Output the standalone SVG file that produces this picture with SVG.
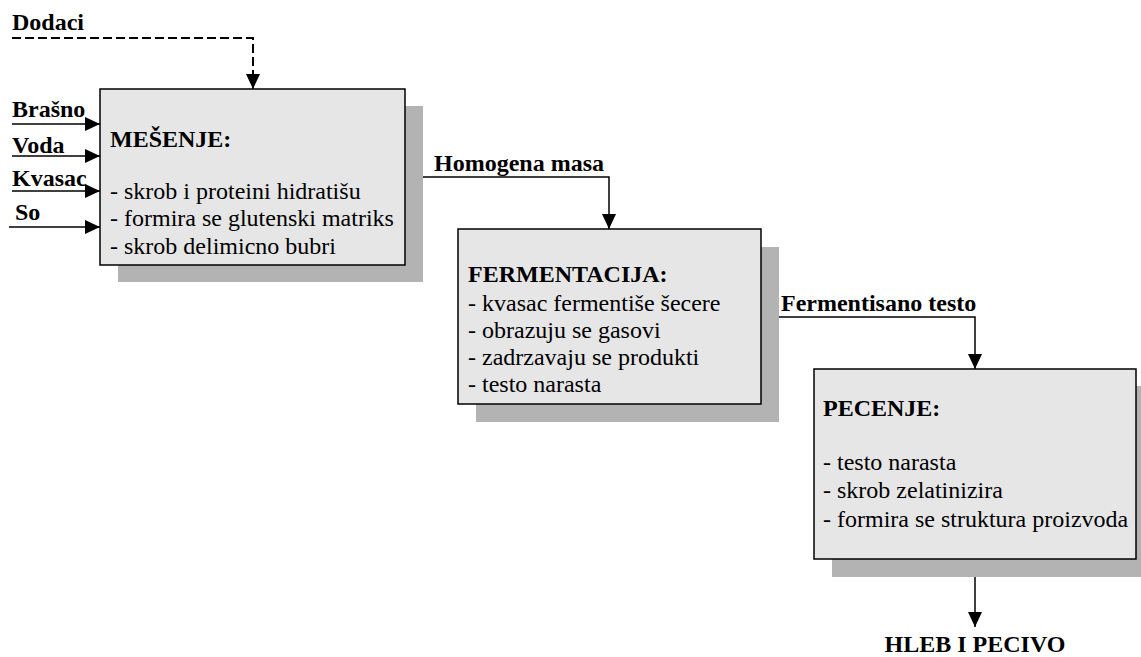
<svg xmlns="http://www.w3.org/2000/svg" width="1141" height="657" viewBox="0 0 1141 657">
<defs>
<style>
.t{font-family:"Liberation Serif","Times New Roman",serif;font-size:24px;fill:#000}
.b{font-weight:bold}
.box{fill:#e6e6e6;stroke:#000;stroke-width:1.5}
.sh{fill:#b3b3b3}
.ln{fill:none;stroke:#000;stroke-width:1.5}
.dash{fill:none;stroke:#000;stroke-width:2;stroke-dasharray:9 4}
</style>
<marker id="ah" viewBox="0 0 15 14" refX="15" refY="7" markerWidth="15" markerHeight="14" orient="auto" markerUnits="userSpaceOnUse">
<path d="M0,0 L15,7 L0,14 z" fill="#000"/>
</marker>
</defs>
<rect width="1141" height="657" fill="#fff"/>
<g id="labels">
<text class="t b" x="12" y="30">Dodaci</text>
<text class="t b" x="12" y="117">Brašno</text>
<text class="t b" x="12" y="153">Voda</text>
<text class="t b" x="12" y="186">Kvasac</text>
<text class="t b" x="15" y="220">So</text>
<text class="t b" x="434" y="171">Homogena masa</text>
<text class="t b" x="781" y="311">Fermentisano testo</text>
<text class="t b" x="975" y="652" text-anchor="middle">HLEB I PECIVO</text>
</g>
<g id="mesenje">
<rect class="sh" x="118" y="106" width="305" height="176"/>
<rect class="box" x="100" y="89" width="305" height="176"/>
<text class="t b" x="110" y="147">MEŠENJE:</text>
<text class="t" x="110" y="199">- skrob i proteini hidratišu</text>
<text class="t" x="110" y="226">- formira se glutenski matriks</text>
<text class="t" x="110" y="254">- skrob delimicno bubri</text>
</g>
<g id="fermentacija">
<rect class="sh" x="476" y="247" width="303" height="175"/>
<rect class="box" x="458" y="229" width="303" height="175"/>
<text class="t b" x="468" y="282">FERMENTACIJA:</text>
<text class="t" x="468" y="311">- kvasac fermentiše šecere</text>
<text class="t" x="468" y="338">- obrazuju se gasovi</text>
<text class="t" x="468" y="365">- zadrzavaju se produkti</text>
<text class="t" x="468" y="392">- testo narasta</text>
</g>
<g id="pecenje">
<rect class="sh" x="832" y="386" width="322" height="191"/>
<rect class="box" x="814" y="369" width="322" height="190"/>
<text class="t b" x="823" y="416">PECENJE:</text>
<text class="t" x="823" y="470">- testo narasta</text>
<text class="t" x="823" y="498">- skrob zelatinizira</text>
<text class="t" x="823" y="527">- formira se struktura proizvoda</text>
</g>
<g id="connectors">
<path class="dash" d="M12,38 H253 V75"/>
<path class="ln" d="M253,75 V89" marker-end="url(#ah)"/>
<path class="ln" d="M12,124 H100" marker-end="url(#ah)"/>
<path class="ln" d="M12,156 H100" marker-end="url(#ah)"/>
<path class="ln" d="M12,191 H100" marker-end="url(#ah)"/>
<path class="ln" d="M9,227 H100" marker-end="url(#ah)"/>
<path class="ln" d="M423,177 H609 V229" marker-end="url(#ah)"/>
<path class="ln" d="M779,317 H975 V369" marker-end="url(#ah)"/>
<path class="ln" d="M975,577 V627" marker-end="url(#ah)"/>
</g>
</svg>
